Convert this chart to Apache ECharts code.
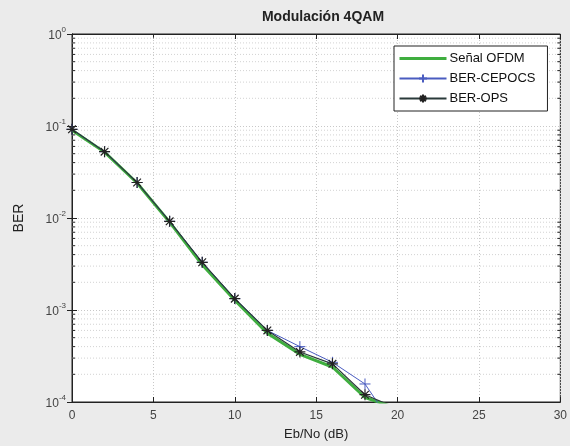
<!DOCTYPE html>
<html>
<head>
<meta charset="utf-8">
<script src="https://cdn.jsdelivr.net/npm/echarts@6/dist/echarts.min.js"></script>
<style>
  html, body { margin: 0; padding: 0; background: #ebebeb; }
  #chart { width: 570px; height: 446px; }
</style>
</head>
<body>
<div id="chart"></div>
<script>
// Eb/No points (dB)
const ebno = [0, 2, 4, 6, 8, 10, 12, 14, 16, 18, 20];
// Bit error rates per scheme
const berOfdm   = [0.090, 0.052, 0.0240, 0.0090, 0.0031, 0.00128, 0.00056, 0.00033, 0.00024, 0.000112, 0.000085];
const berCepocs = [0.092, 0.0526, 0.0243, 0.0092, 0.0033, 0.00133, 0.00060, 0.00040, 0.00027, 0.000157, 0.000047];
const berOps    = [0.092, 0.0526, 0.0243, 0.0092, 0.0033, 0.00133, 0.00060, 0.00035, 0.00026, 0.000120, 0.000085];
// Axis ticks
const xTicks = [0, 5, 10, 15, 20, 25, 30];
const yDecades = [1e-4, 1e-3, 1e-2, 1e-1, 1];
const minorGrid = [];
for (let d = -4; d < 0; d++) {
  for (let m = 2; m <= 9; m++) minorGrid.push(m * Math.pow(10, d));
}

const pair = (xs, ys) => xs.map((x, i) => [x, ys[i]]);

const plusPath = 'path://M0,-5L0,5M-5,0L5,0';
const starPath = 'path://M0,-5L0,5M-5,0L5,0M-3.5,-3.5L3.5,3.5M-3.5,3.5L3.5,-3.5';

const chart = echarts.init(document.getElementById('chart'), null, { renderer: 'canvas' });

const font = 'Liberation Sans, Arial, sans-serif';

chart.setOption({
  backgroundColor: '#ebebeb',
  animation: false,
  title: {
    text: 'Modulación 4QAM',
    left: 318, top: 5, textAlign: 'center',
    textStyle: { fontFamily: font, fontSize: 14, fontWeight: 'bold', color: '#222' }
  },
  grid: {
    left: 72, right: 6, top: 34, bottom: 43,
    show: true, backgroundColor: '#ffffff', borderColor: '#222', borderWidth: 1
  },
  legend: {
    orient: 'vertical',
    left: 394, top: 46,
    padding: [6, 12, 6, 4],
    itemWidth: 47, itemHeight: 10, itemGap: 7,
    backgroundColor: '#ffffff', borderColor: '#222', borderWidth: 1,
    textStyle: { fontFamily: font, fontSize: 13, color: '#111', padding: [0, 0, 0, -2] },
    data: [
      { name: 'Señal OFDM', itemStyle: { opacity: 0 }, lineStyle: { width: 3 } },
      { name: 'BER-CEPOCS' },
      { name: 'BER-OPS' }
    ]
  },
  xAxis: [{
    type: 'value', min: 0, max: 30, interval: 5,
    name: 'Eb/No (dB)', nameLocation: 'middle', nameGap: 26,
    nameTextStyle: { fontFamily: font, fontSize: 13, color: '#222' },
    axisLine: { show: true, lineStyle: { color: '#222' } },
    axisTick: { inside: true, length: 5, lineStyle: { color: '#222' } },
    axisLabel: { fontFamily: font, fontSize: 12, color: '#444', margin: 8 },
    splitLine: { show: true, lineStyle: { color: '#c8c8c8', type: [1, 2] } }
  }, {
    type: 'value', min: 0, max: 30, interval: 5, position: 'top',
    axisLine: { show: true, lineStyle: { color: '#222' } },
    axisTick: { inside: true, length: 5, lineStyle: { color: '#222' } },
    axisLabel: { show: false }, splitLine: { show: false }
  }],
  yAxis: [{
    type: 'log', logBase: 10, min: 1e-4, max: 1,
    name: 'BER', nameLocation: 'middle', nameGap: 46,
    nameTextStyle: { fontFamily: font, fontSize: 14, color: '#222' },
    axisLine: { show: true, lineStyle: { color: '#222' } },
    axisTick: { inside: true, length: 5, lineStyle: { color: '#222' } },
    axisLabel: {
      margin: 6,
      formatter: v => '{b|10}{s|' + Math.round(Math.log10(v)) + '}',
      rich: {
        b: { fontFamily: font, fontSize: 12, color: '#444', verticalAlign: 'bottom', lineHeight: 16, padding: [6, 0, 0, 0] },
        s: { fontFamily: font, fontSize: 8, color: '#444', verticalAlign: 'top', lineHeight: 16, padding: [0, 0, 6, 0] }
      }
    },
    splitLine: { show: true, lineStyle: { color: '#c8c8c8', type: [1, 2] } }
  }, {
    type: 'log', logBase: 10, min: 1e-4, max: 1, position: 'right',
    axisLine: { show: true, lineStyle: { color: '#222' } },
    axisTick: { inside: true, length: 5, lineStyle: { color: '#222' } },
    axisLabel: { show: false }, splitLine: { show: false }
  }],
  series: [
    {
      // minor log gridlines with small inside ticks on both vertical edges
      type: 'custom', silent: true, z: 1,
      data: minorGrid.map(v => [0, v]),
      renderItem: (params, api) => {
        const v = api.value(1);
        const l = api.coord([0, v]);
        const r = api.coord([30, v]);
        const style = { stroke: '#d2d2d2', lineWidth: 1, lineDash: [1, 2] };
        return {
          type: 'group',
          children: [
            { type: 'line', shape: { x1: l[0], y1: l[1], x2: r[0], y2: r[1] }, style: style },
            { type: 'line', shape: { x1: l[0], y1: l[1], x2: l[0] + 3, y2: l[1] }, style: { stroke: '#222', lineWidth: 1 } },
            { type: 'line', shape: { x1: r[0] - 3, y1: r[1], x2: r[0], y2: r[1] }, style: { stroke: '#222', lineWidth: 1 } }
          ]
        };
      }
    },
    {
      name: 'Señal OFDM', type: 'line', z: 3,
      data: pair(ebno, berOfdm),
      showSymbol: false, symbol: 'none',
      lineStyle: { color: '#3fae3f', width: 3 },
      itemStyle: { color: '#3fae3f' }
    },
    {
      name: 'BER-CEPOCS', type: 'line', z: 4,
      data: pair(ebno, berCepocs),
      symbol: plusPath, symbolSize: 11, showAllSymbol: true,
      lineStyle: { color: '#4a5cc0', width: 1 },
      itemStyle: { color: 'none', borderColor: '#4a5cc0', borderWidth: 1 }
    },
    {
      name: 'BER-OPS', type: 'line', z: 5,
      data: pair(ebno, berOps),
      symbol: starPath, symbolSize: 11, showAllSymbol: true,
      lineStyle: { color: '#2a3a3a', width: 1.2 },
      itemStyle: { color: 'none', borderColor: '#222', borderWidth: 1.2 }
    }
  ]
});
</script>
</body>
</html>
